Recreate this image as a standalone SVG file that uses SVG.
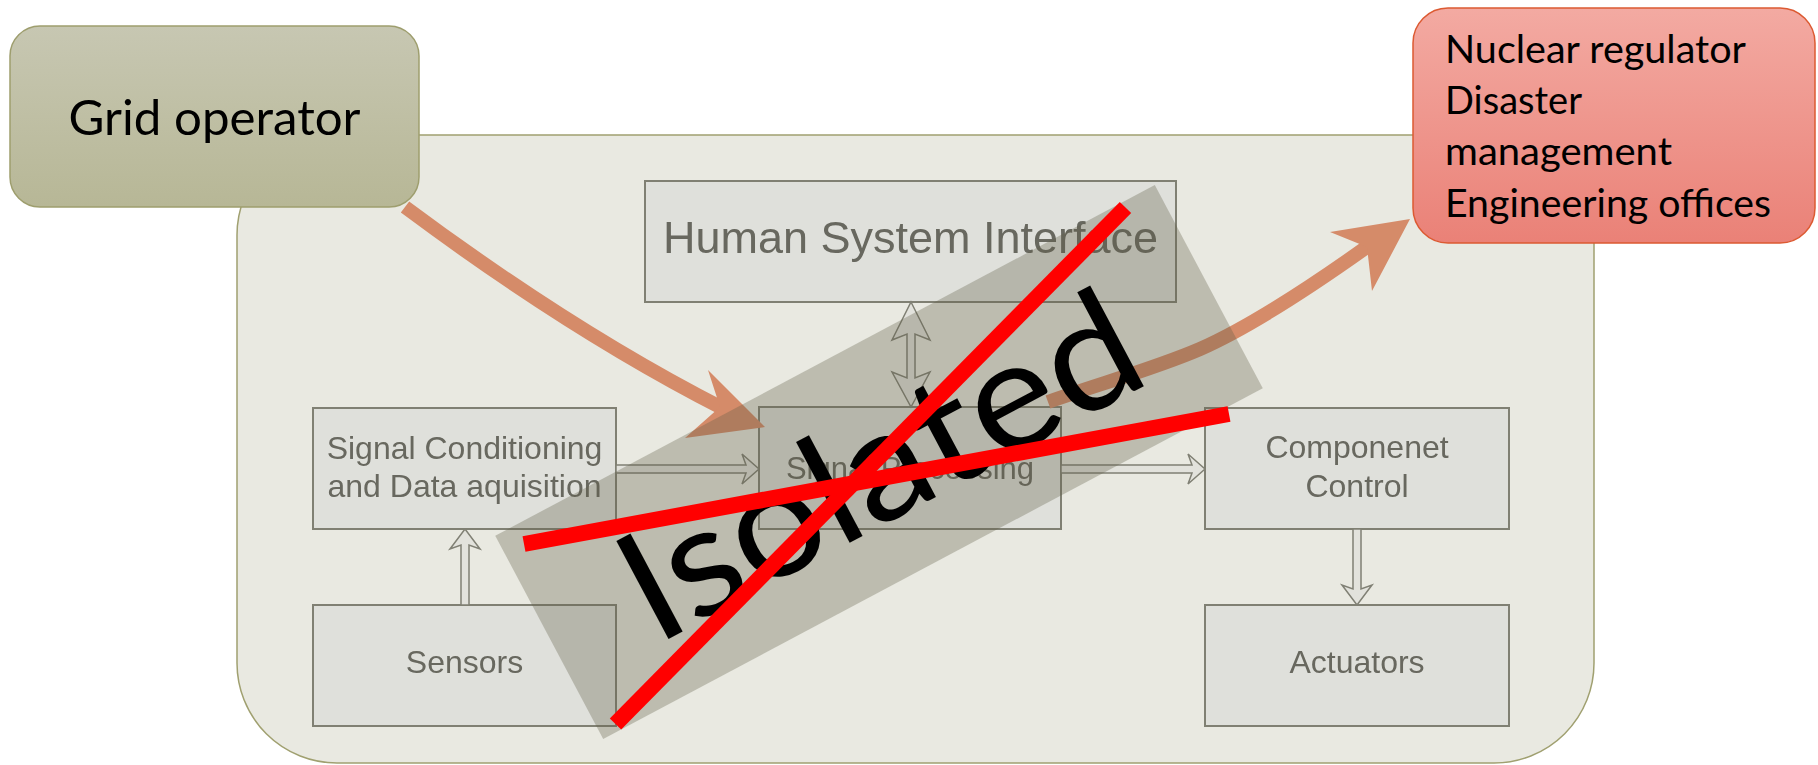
<svg xmlns="http://www.w3.org/2000/svg" width="1818" height="765" viewBox="0 0 1818 765">
  <defs>
    <linearGradient id="gridFill" x1="0" y1="0" x2="0" y2="1">
      <stop offset="0" stop-color="#C7C7B2"/>
      <stop offset="1" stop-color="#B7B796"/>
    </linearGradient>
    <linearGradient id="regFill" x1="0" y1="0" x2="0" y2="1">
      <stop offset="0" stop-color="#F3AAA2"/>
      <stop offset="1" stop-color="#EA8177"/>
    </linearGradient>
    <filter id="soft" x="-5%" y="-5%" width="110%" height="110%">
      <feGaussianBlur stdDeviation="0.55"/>
    </filter>
    <style>
      .block { fill: #DFE0DB; stroke: #808073; stroke-width: 2; }
      .blockText { font-family: "Liberation Sans", Arial, sans-serif; font-size: 32px; fill: #67675E; text-anchor: middle; }
      .blockText.big { font-size: 45px; }
      .blockText.mid { font-size: 31px; }
      .hollow { fill: #E2E2DC; stroke: #808074; stroke-width: 1.5; stroke-linejoin: miter; }
      .flow { fill: none; stroke: #D58B69; stroke-width: 14; }
      .flowHead { fill: #D58B69; }
      .label { font-family: Lato, "Open Sans", sans-serif; fill: #000000; }
      .cross { stroke: #FF0000; stroke-width: 16; stroke-linecap: butt; }
    </style>
  </defs>

  <!-- plant I&C enclosure -->
  <g id="plant">
    <rect x="237" y="135" width="1357" height="628" rx="100" ry="100" fill="#E9E9E1" stroke="#A0A070" stroke-width="1.5"/>
  </g>

  <!-- external parties -->
  <g id="grid-operator">
    <rect x="10" y="26" width="409" height="181" rx="30" ry="30" fill="url(#gridFill)" stroke="#9E9E6E" stroke-width="1.5"/>
    <text class="label" x="214.5" y="135" font-size="48" text-anchor="middle" textLength="292" lengthAdjust="spacingAndGlyphs">Grid operator</text>
  </g>

  <g id="authorities">
    <rect x="1413" y="8" width="402" height="235" rx="35" ry="35" fill="url(#regFill)" stroke="#DC5A32" stroke-width="1.5"/>
    <text class="label" x="1445" y="63" font-size="38" textLength="301" lengthAdjust="spacingAndGlyphs">Nuclear regulator</text>
    <text class="label" x="1445" y="114" font-size="38" textLength="137" lengthAdjust="spacingAndGlyphs">Disaster</text>
    <text class="label" x="1445" y="165" font-size="38" textLength="227" lengthAdjust="spacingAndGlyphs">management</text>
    <text class="label" x="1445" y="217" font-size="38" textLength="326" lengthAdjust="spacingAndGlyphs">Engineering offices</text>
  </g>

  <!-- I&C function blocks -->
  <g filter="url(#soft)">
    <g id="hsi">
      <rect class="block" x="645" y="181" width="531" height="121"/>
      <text class="blockText big" x="910.5" y="253">Human System Interface</text>
    </g>
    <g id="signal-conditioning">
      <rect class="block" x="313" y="408" width="303" height="121"/>
      <text class="blockText" x="464.5" y="459">Signal Conditioning</text>
      <text class="blockText" x="464.5" y="497">and Data aquisition</text>
    </g>
    <g id="signal-processing">
      <rect class="block" x="759" y="407" width="302" height="122"/>
      <text class="blockText mid" x="910" y="479">Signal Processing</text>
    </g>
    <g id="component-control">
      <rect class="block" x="1205" y="408" width="304" height="121"/>
      <text class="blockText" x="1357" y="458">Componenet</text>
      <text class="blockText" x="1357" y="497">Control</text>
    </g>
    <g id="sensors">
      <rect class="block" x="313" y="605" width="303" height="121"/>
      <text class="blockText" x="464.5" y="673">Sensors</text>
    </g>
    <g id="actuators">
      <rect class="block" x="1205" y="605" width="304" height="121"/>
      <text class="blockText" x="1357" y="673">Actuators</text>
    </g>

    <!-- internal signal paths -->
    <g id="internal-links">
      <path class="hollow" d="M616,465 H746 L742,454 L759,469 L742,484 L746,473 H616 Z"/>
      <path class="hollow" d="M1061,465 H1192 L1188,454 L1205,469 L1188,484 L1192,473 H1061 Z"/>
      <path class="hollow" d="M461,605 V545 L450,549 L465,529 L480,549 L469,545 V605 Z"/>
      <path class="hollow" d="M1353,529 V589 L1342,585 L1357,605 L1372,585 L1361,589 V529 Z"/>
      <path class="hollow" d="M911,302 L930,340 L915,334 V378 L930,372 L911,407 L892,372 L907,378 V334 L892,340 Z"/>
    </g>
  </g>

  <!-- external communication links -->
  <g id="external-links">
    <path class="flow" d="M405,207 C501,278.5 613,352.5 724,409"/>
    <polygon class="flowHead" points="765,427 708,370 720,407 685,438"/>
    <path class="flow" d="M1048,402 C1095,385 1154,369 1200,349 C1250,327 1322,279 1371,244"/>
    <polygon class="flowHead" points="1410,219 1330,232 1367,247 1372,291"/>
  </g>

  <!-- isolation banner -->
  <g id="isolated" transform="translate(879,462) rotate(-28)">
    <rect x="-373.5" y="-115" width="747" height="230" fill="#5F5D48" fill-opacity="0.32"/>
    <text class="label" x="-1.5" y="57.5" font-size="155" text-anchor="middle" textLength="565" lengthAdjust="spacingAndGlyphs">Isolated</text>
  </g>
  <g id="cross-out">
    <line class="cross" x1="615.5" y1="724" x2="1125.5" y2="207.5"/>
    <line class="cross" x1="524" y1="544" x2="1229" y2="414"/>
  </g>
</svg>
